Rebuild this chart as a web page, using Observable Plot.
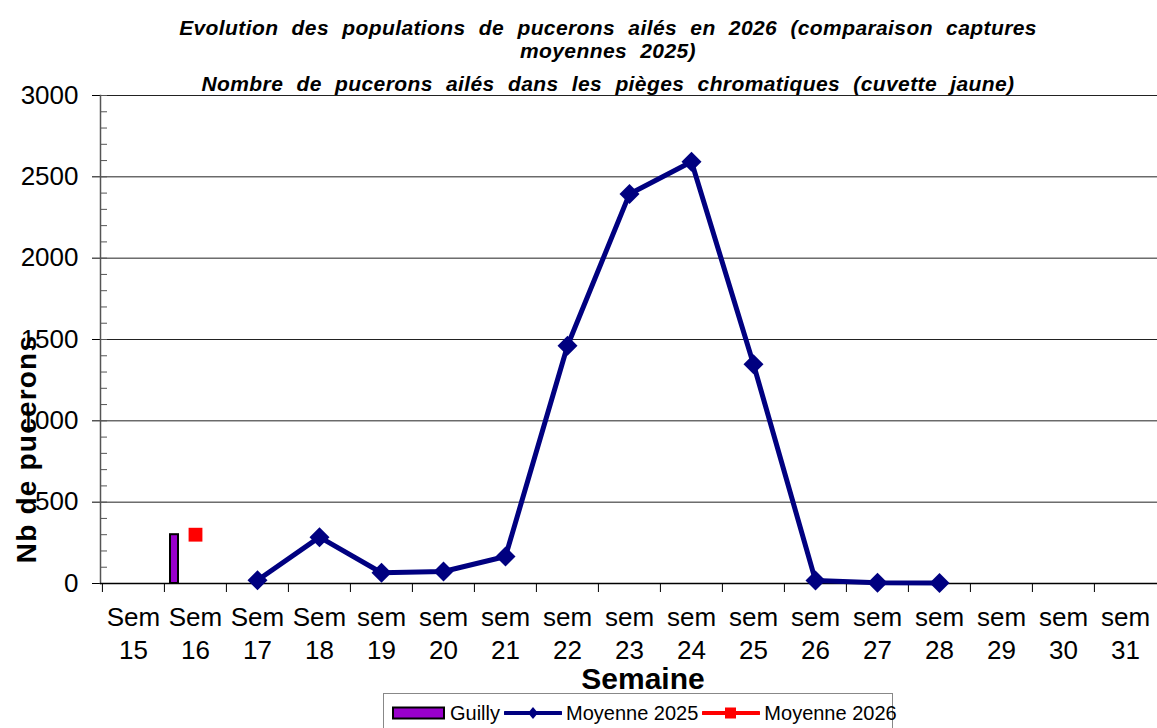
<!DOCTYPE html>
<html>
<head>
<meta charset="utf-8">
<script src="https://cdn.jsdelivr.net/npm/d3@7"></script>
<script src="https://cdn.jsdelivr.net/npm/@observablehq/plot@0.6"></script>
<style>
  html, body { margin: 0; padding: 0; background: #fff; }
  body { width: 1157px; height: 728px; overflow: hidden; position: relative; font-family: "Liberation Sans", Arial, sans-serif; }
  #chart { position: absolute; left: 0; top: 0; }
  .title { position: absolute; left: 0; width: 1216px; text-align: center; font-weight: bold; font-style: italic; font-size: 21px; letter-spacing: 0.4px; word-spacing: 7px; color: #000; white-space: nowrap; line-height: 24px; }
  #ylabel { position: absolute; left: 27px; top: 449px; transform: translate(-50%, -50%) rotate(-90deg); font-weight: bold; font-size: 28px; letter-spacing: 1.2px; white-space: nowrap; }
  #xlabel { position: absolute; left: 643px; top: 662px; transform: translateX(-50%); font-weight: bold; font-size: 30px; white-space: nowrap; }
  #legend { position: absolute; left: 383px; top: 693px; width: 510px; height: 40px; border: 1px solid #888; box-sizing: border-box; display: flex; align-items: center; padding-left: 8px; font-size: 20px; white-space: nowrap; }
  #legend .item { display: flex; align-items: center; margin-right: 4px; }
  #legend svg { margin-right: 4px; }
</style>
</head>
<body>
<div id="chart"></div>
<div class="title" style="top:16px">Evolution des populations de pucerons ailés en 2026 (comparaison captures</div>
<div class="title" style="top:39px">moyennes 2025)</div>
<div class="title" style="top:72px">Nombre de pucerons ailés dans les pièges chromatiques (cuvette jaune)</div>
<div id="ylabel">Nb de pucerons</div>
<div id="xlabel">Semaine</div>
<div id="legend"></div>
<script>
// ---- data ----
const weeks = ["Sem 15","Sem 16","Sem 17","Sem 18","sem 19","sem 20","sem 21","sem 22","sem 23","sem 24","sem 25","sem 26","sem 27","sem 28","sem 29","sem 30","sem 31"];
const guilly      = [null, 300, null, null, null, null, null, null, null, null, null, null, null, null, null, null, null];
const moyenne2025 = [null, null, 20, 285, 66, 74, 166, 1462, 2395, 2593, 1348, 18, 5, 3, null, null, null];
const moyenne2026 = [null, 300, null, null, null, null, null, null, null, null, null, null, null, null, null, null, null];
const yMajor = [0, 500, 1000, 1500, 2000, 2500, 3000];
const yMinor = d3.range(0, 3001, 100);

const seriesNames = ["Guilly", "Moyenne 2025", "Moyenne 2026"];
const colors = {"Guilly": "#9900CC", "Moyenne 2025": "#000080", "Moyenne 2026": "#FF0000"};

const rows = weeks.map((w, i) => ({week: w, guilly: guilly[i], m25: moyenne2025[i], m26: moyenne2026[i]}));
const barRows = rows.filter(d => d.guilly != null);
const lineRows = rows.filter(d => d.m25 != null);
const sqRows = rows.filter(d => d.m26 != null);

const W = 1157, H = 728, mL = 100, mR = 0;
const bw = (W - mL - mR) / weeks.length;

const plot = Plot.plot({
  width: W,
  height: H,
  marginLeft: mL,
  marginRight: mR,
  marginTop: 95,
  marginBottom: 145,
  style: {fontFamily: "'Liberation Sans', Arial, sans-serif", background: "#fff", color: "#000", overflow: "visible"},
  x: {type: "band", domain: weeks, padding: 0, axis: null},
  y: {domain: [0, 3000], axis: null},
  marks: [
    Plot.ruleY(yMajor.slice(1), {stroke: "#222", strokeWidth: 1}),
    // minor ticks (inside)
    Plot.axisY({ticks: yMinor, tickSize: -7, tickFormat: () => "", label: null, stroke: "#555"}),
    // major ticks + labels
    Plot.axisY({ticks: yMajor, tickSize: 8, tickPadding: 14, fontSize: 26, label: null, stroke: "#000", tickFormat: d => String(d)}),
    // x ticks at band boundaries
    Plot.axisX({tickSize: 9, dx: -bw / 2, tickFormat: () => "", label: null, stroke: "#000"}),
    // x labels
    Plot.axisX({tickSize: 0, tickPadding: 19, fontSize: 26, lineHeight: 1.27, label: null,
      tickFormat: d => d.replace(" ", "\n")}),
    Plot.frame({anchor: "left", stroke: "#555", strokeWidth: 1.5}),
    Plot.ruleY([0], {stroke: "#000", strokeWidth: 1.5}),
    Plot.barY(barRows, {x: "week", y: "guilly", fill: colors["Guilly"], stroke: "#000", strokeWidth: 2, insetLeft: 6, insetRight: 48}),
    Plot.line(lineRows, {x: "week", y: "m25", stroke: colors["Moyenne 2025"], strokeWidth: 5}),
    Plot.dot(lineRows, {x: "week", y: "m25", symbol: "diamond2", r: 9, fill: colors["Moyenne 2025"], stroke: "none"}),
    Plot.dot(sqRows, {x: "week", y: "m26", symbol: "square", r: 7.8, fill: colors["Moyenne 2026"], stroke: "none"})
  ]
});
document.getElementById("chart").appendChild(plot);

// ---- legend ----
const legend = document.getElementById("legend");
const swatches = {
  "Guilly": `<svg width="54" height="14"><rect x="1" y="1.5" width="51" height="11" fill="${colors["Guilly"]}" stroke="#000" stroke-width="2"/></svg>`,
  "Moyenne 2025": `<svg width="58" height="14"><line x1="1" y1="7" x2="57" y2="7" stroke="${colors["Moyenne 2025"]}" stroke-width="4" stroke-linecap="round"/><path d="M29,1 L34,7 L29,13 L24,7 Z" fill="${colors["Moyenne 2025"]}"/></svg>`,
  "Moyenne 2026": `<svg width="58" height="14"><line x1="1" y1="7" x2="57" y2="7" stroke="${colors["Moyenne 2026"]}" stroke-width="4" stroke-linecap="round"/><rect x="23" y="1.5" width="11" height="11" fill="${colors["Moyenne 2026"]}"/></svg>`
};
seriesNames.forEach(name => {
  const it = document.createElement("div");
  it.className = "item";
  it.innerHTML = swatches[name] + `<span>${name}</span>`;
  legend.appendChild(it);
});
</script>
</body>
</html>
